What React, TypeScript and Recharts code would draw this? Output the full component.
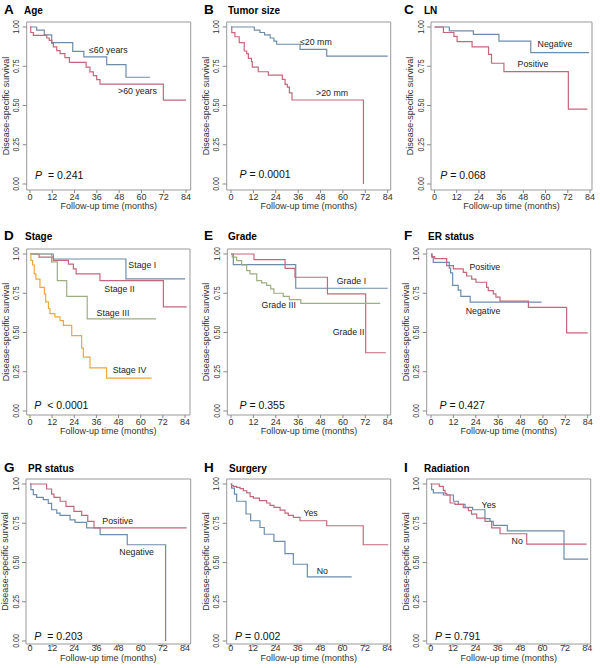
import React from "react";
import { LineChart, Line, XAxis, YAxis, ReferenceArea, ReferenceDot } from "recharts";

type Pt = [number, number];

const monthTicks = [0, 12, 24, 36, 48, 60, 72, 84];
const survTicks = [0, 0.25, 0.5, 0.75, 1];

// A - Age
const ageLe60: Pt[] = [[0, 1], [3.6, 0.98], [7.7, 0.95], [11.7, 0.9], [23, 0.845], [29, 0.81], [41.3, 0.76], [51.7, 0.68], [64.6, 0.68]];
const ageGt60: Pt[] = [[0, 1], [0.4, 0.965], [1.8, 0.947], [9, 0.93], [10.4, 0.915], [11.7, 0.895], [12.6, 0.873], [14.4, 0.85], [16.2, 0.83], [18.8, 0.805], [21.2, 0.775], [30.2, 0.745], [32.3, 0.714], [34.1, 0.69], [35.9, 0.665], [37.7, 0.636], [71.8, 0.534], [84, 0.534]];

// B - Tumor size
const sizeLe20: Pt[] = [[0, 1], [12.5, 0.98], [15.5, 0.965], [18, 0.95], [21, 0.93], [23, 0.91], [24.5, 0.89], [37, 0.857], [51.3, 0.815], [84, 0.815]];
const sizeGt20: Pt[] = [[0, 1], [0.4, 0.964], [2.1, 0.938], [4.4, 0.9], [7.1, 0.847], [8.4, 0.83], [9.3, 0.8], [11, 0.78], [11.4, 0.745], [14.6, 0.715], [20, 0.694], [27.5, 0.666], [29, 0.634], [30.2, 0.617], [31.3, 0.58], [32.7, 0.535], [71, 0]];

// C - LN
const lnNeg: Pt[] = [[0, 1], [8, 0.975], [21, 0.953], [34.8, 0.91], [52, 0.837], [83.5, 0.837]];
const lnPos: Pt[] = [[0, 1], [4.8, 0.965], [10.5, 0.94], [12.2, 0.907], [20.3, 0.873], [29.2, 0.826], [30.8, 0.769], [37.5, 0.716], [72.3, 0.477], [82.6, 0.477]];

// D - Stage
const stage1: Pt[] = [[0, 1], [12.6, 0.968], [52, 0.841], [84, 0.841]];
const stage2: Pt[] = [[0, 1], [4.9, 0.98], [12.6, 0.96], [20.8, 0.935], [23.5, 0.905], [25, 0.873], [37.9, 0.83], [72.3, 0.663], [84.9, 0.663]];
const stage3: Pt[] = [[0, 1], [11.7, 0.95], [14.8, 0.83], [19.9, 0.73], [31, 0.587], [68.3, 0.587]];
const stage4: Pt[] = [[0, 1], [0.5, 0.96], [1.4, 0.93], [2.3, 0.873], [3.2, 0.84], [5.4, 0.788], [7.8, 0.746], [8.5, 0.695], [10, 0.653], [10.8, 0.62], [13.5, 0.6], [16.3, 0.576], [18.1, 0.545], [22.6, 0.48], [28, 0.4], [28.9, 0.343], [32.5, 0.275], [41.5, 0.21], [65.9, 0.21]];

// E - Grade
const grade1: Pt[] = [[0, 1], [1.25, 0.932], [34.7, 0.782], [84, 0.782]];
const grade2: Pt[] = [[0, 1], [12.3, 0.964], [29, 0.909], [34.3, 0.852], [51.7, 0.746], [72.2, 0.371], [83, 0.371]];
const grade3: Pt[] = [[0, 1], [0.7, 0.98], [3, 0.958], [5.7, 0.93], [8.4, 0.894], [10.2, 0.873], [13.8, 0.83], [16.4, 0.816], [19.1, 0.8], [21.3, 0.778], [23, 0.75], [28, 0.73], [31.3, 0.71], [37.4, 0.686], [80, 0.686]];

// F - ER status
const erNeg: Pt[] = [[0, 1], [0.5, 0.979], [1.2, 0.947], [9.8, 0.91], [10.5, 0.88], [11.6, 0.8], [14.6, 0.77], [16, 0.73], [21, 0.693], [59.3, 0.693]];
const erPos: Pt[] = [[0, 1], [0.5, 0.983], [2, 0.97], [8.4, 0.926], [12, 0.905], [17.3, 0.883], [19.1, 0.86], [21.8, 0.84], [24.1, 0.82], [29.8, 0.788], [30.7, 0.767], [33.4, 0.746], [34.8, 0.725], [37, 0.7], [52.2, 0.66], [72.7, 0.498], [84, 0.498]];

// G - PR status
const prPos: Pt[] = [[0, 1], [9, 0.968], [11.7, 0.936], [13, 0.915], [16.3, 0.89], [19.5, 0.857], [23.8, 0.826], [28, 0.8], [31.3, 0.762], [34.7, 0.72], [84.9, 0.72]];
const prNeg: Pt[] = [[0, 1], [0.5, 0.964], [1.8, 0.932], [3.6, 0.915], [7.2, 0.9], [9.9, 0.877], [11.7, 0.836], [14.5, 0.815], [16.3, 0.8], [21.7, 0.772], [24.4, 0.755], [30.7, 0.72], [38, 0.677], [52.7, 0.613], [73.5, 0]];

// H - Surgery
const surgYes: Pt[] = [[0, 1], [0.5, 0.99], [1.4, 0.985], [3.2, 0.979], [5, 0.97], [6.8, 0.957], [8.6, 0.943], [10.4, 0.92], [12.2, 0.91], [15.4, 0.894], [19.3, 0.879], [21.1, 0.864], [23.2, 0.851], [26.5, 0.834], [29.1, 0.815], [30.9, 0.8], [33.6, 0.787], [37.2, 0.766], [51.5, 0.734], [71.1, 0.613], [84.5, 0.613]];
const surgNo: Pt[] = [[0, 1], [0.5, 0.974], [2, 0.936], [3.2, 0.89], [8.2, 0.809], [10.7, 0.766], [15.7, 0.723], [18, 0.68], [23.2, 0.634], [29.1, 0.557], [33.6, 0.489], [41.1, 0.408], [64.9, 0.408]];

// I - Radiation
const radYes: Pt[] = [[0, 1], [0.5, 0.964], [1.4, 0.943], [6.8, 0.93], [12.2, 0.89], [14.8, 0.87], [18.4, 0.851], [22.5, 0.836], [29.1, 0.779], [31.8, 0.762], [33.6, 0.736], [41.1, 0.702], [71.5, 0.521], [84.5, 0.521]];
const radNo: Pt[] = [[0, 1], [4.6, 0.985], [6.8, 0.96], [7.7, 0.94], [8.6, 0.93], [10.4, 0.879], [13, 0.87], [17.5, 0.849], [20.2, 0.83], [21.9, 0.808], [24.7, 0.783], [29.1, 0.762], [32.7, 0.72], [37.2, 0.683], [51.5, 0.617], [83.6, 0.617]];

const BLUE = "#6d8cac";
const RED = "#c4677b";
const GREEN = "#9dae83";
const ORANGE = "#f0a63c";
const BOX = "#999999";
const FONT = "'Liberation Sans', Arial, Helvetica, sans-serif";

type Curve = { name: string; pts: Pt[]; color: string; at: Pt };
type PanelCfg = {
  letter: string;
  title: string;
  titleX: number;
  col: number;
  row: number;
  xg: [number, number, number, number]; // box left, box right, x of 0, x of 84
  p: string;
  pGap: number;
  pAt: Pt;
  curves: Curve[];
};

const ROWS = [
  { top: 0, h: 222, bt: 22, bb: 190, y1: 27, y0: 184, tickDy: 4, labDy: 16, titleY: 14 },
  { top: 222, h: 223, bt: 249, bb: 415, y1: 254, y0: 411, tickDy: 4, labDy: 16, titleY: 240 },
  { top: 445, h: 223, bt: 479, bb: 644, y1: 484, y0: 641, tickDy: 1, labDy: 13.5, titleY: 472 },
];

const panels: PanelCfg[] = [
  { letter: "A", title: "Age", titleX: 24, col: 0, row: 0, xg: [26.7, 190.7, 30, 186], p: "= 0.241", pGap: 6, pAt: [2.7, 0.057],
    curves: [
      { name: "≤60 years", pts: ageLe60, color: BLUE, at: [31.8, 0.855] },
      { name: ">60 years", pts: ageGt60, color: RED, at: [47.4, 0.59] },
    ] },
  { letter: "B", title: "Tumor size", titleX: 228, col: 1, row: 0, xg: [226.7, 390.7, 231, 387.7], p: "= 0.0001", pGap: 3, pAt: [4.5, 0.064],
    curves: [
      { name: "≤20 mm", pts: sizeLe20, color: BLUE, at: [37, 0.906] },
      { name: ">20 mm", pts: sizeGt20, color: RED, at: [45.6, 0.578] },
    ] },
  { letter: "C", title: "LN", titleX: 424, col: 2, row: 0, xg: [431, 592, 434.5, 590], p: "= 0.068", pGap: 3, pAt: [3.1, 0.057],
    curves: [
      { name: "Negative", pts: lnNeg, color: BLUE, at: [55.7, 0.89] },
      { name: "Positive", pts: lnPos, color: RED, at: [44.9, 0.764] },
    ] },
  { letter: "D", title: "Stage", titleX: 25, col: 0, row: 1, xg: [26.7, 190, 30, 185], p: "< 0.0001", pGap: 6, pAt: [2.3, 0.036],
    curves: [
      { name: "Stage I", pts: stage1, color: BLUE, at: [53.3, 0.932] },
      { name: "Stage II", pts: stage2, color: RED, at: [40.3, 0.778] },
      { name: "Stage III", pts: stage3, color: GREEN, at: [36.1, 0.625] },
      { name: "Stage IV", pts: stage4, color: ORANGE, at: [44.8, 0.258] },
    ] },
  { letter: "E", title: "Grade", titleX: 228, col: 1, row: 1, xg: [227.3, 390.7, 231, 387.7], p: "= 0.355", pGap: 3, pAt: [4.5, 0.04],
    curves: [
      { name: "Grade I", pts: grade1, color: BLUE, at: [56.7, 0.826] },
      { name: "Grade II", pts: grade2, color: RED, at: [54.5, 0.502] },
      { name: "Grade III", pts: grade3, color: GREEN, at: [16.4, 0.672] },
    ] },
  { letter: "F", title: "ER status", titleX: 428, col: 2, row: 1, xg: [426.7, 590.7, 431, 587.7], p: "= 0.427", pGap: 3, pAt: [4.5, 0.04],
    curves: [
      { name: "Negative", pts: erNeg, color: BLUE, at: [18.6, 0.64] },
      { name: "Positive", pts: erPos, color: RED, at: [20.6, 0.919] },
    ] },
  { letter: "G", title: "PR status", titleX: 28, col: 0, row: 2, xg: [26, 190.7, 30, 185], p: "= 0.203", pGap: 6, pAt: [2.3, 0.032],
    curves: [
      { name: "Negative", pts: prNeg, color: BLUE, at: [48.4, 0.564] },
      { name: "Positive", pts: prPos, color: RED, at: [39.2, 0.766] },
    ] },
  { letter: "H", title: "Surgery", titleX: 229, col: 1, row: 2, xg: [226.7, 390.7, 230.7, 387.3], p: "= 0.002", pGap: 3, pAt: [2.3, 0.032],
    curves: [
      { name: "No", pts: surgNo, color: BLUE, at: [46.1, 0.447] },
      { name: "Yes", pts: surgYes, color: RED, at: [39, 0.815] },
    ] },
  { letter: "I", title: "Radiation", titleX: 424, col: 2, row: 2, xg: [426.7, 590.7, 430.7, 587.3], p: "= 0.791", pGap: 3, pAt: [2.3, 0.032],
    curves: [
      { name: "Yes", pts: radYes, color: BLUE, at: [27.3, 0.864] },
      { name: "No", pts: radNo, color: RED, at: [43.4, 0.634] },
    ] },
];

const toRows = (pts: Pt[]) => pts.map(([t, s]) => ({ t, s }));

function KMPanel({ cfg }: { cfg: PanelCfg }) {
  const row = ROWS[cfg.row];
  const left = cfg.col * 200;
  const [bl, br, x0, x84] = cfg.xg;
  const ppm = (x84 - x0) / 84;
  const xDomain: [number, number] = [-(x0 - bl) / ppm, 84 + (br - x84) / ppm];
  const ppu = row.y0 - row.y1;
  const yDomain: [number, number] = [-(row.bb - row.y0) / ppu, 1 + (row.y1 - row.bt) / ppu];

  return (
    <div style={{ position: "absolute", left, top: row.top, width: 200, height: row.h }}>
      <LineChart
        width={200}
        height={row.h}
        margin={{ top: row.bt - row.top, right: left + 200 - br, bottom: 0, left: 0 }}
      >
        <XAxis
          type="number"
          dataKey="t"
          domain={xDomain}
          ticks={monthTicks}
          interval={0}
          allowDataOverflow
          axisLine={false}
          tickLine={{ stroke: "#888" }}
          tickSize={3}
          tickMargin={0}
          height={row.top + row.h - row.bb}
          tick={(p: any) => (
            <text x={p.x} y={p.y + row.tickDy} textAnchor="middle" dominantBaseline="central"
              fontSize={9} fill="#333" fontFamily={FONT}>
              {p.payload.value}
            </text>
          )}
          label={{
            content: (p: any) => {
              const vb = p.viewBox;
              return (
                <text x={vb.x + vb.width / 2} y={vb.y + row.labDy} textAnchor="middle" dominantBaseline="central"
                  fontSize={9} fill="#333" fontFamily={FONT}>
                  Follow-up time (months)
                </text>
              );
            },
          }}
        />
        <YAxis
          type="number"
          domain={yDomain}
          ticks={survTicks}
          interval={0}
          allowDataOverflow
          axisLine={false}
          tickLine={{ stroke: "#888" }}
          tickSize={4}
          tickMargin={0}
          width={bl - left}
          tick={(p: any) => (
            <g transform={`translate(${p.x - 6},${p.y})`}>
              <text transform="rotate(-90) scale(0.78,1)" textAnchor="middle" dominantBaseline="central"
                fontSize={9} fill="#333" fontFamily={FONT}>
                {Number(p.payload.value).toFixed(2)}
              </text>
            </g>
          )}
          label={{
            content: (p: any) => {
              const vb = p.viewBox;
              const cx = vb.x + vb.width - 21;
              const cy = vb.y + vb.height / 2;
              return (
                <text x={cx} y={cy} transform={`rotate(-90 ${cx} ${cy})`} textAnchor="middle"
                  dominantBaseline="central" fontSize={9} fill="#333" fontFamily={FONT}>
                  Disease-specific survival
                </text>
              );
            },
          }}
        />
        <ReferenceArea x1={xDomain[0]} x2={xDomain[1]} y1={yDomain[0]} y2={yDomain[1]}
          fill="none" stroke={BOX} strokeWidth={1} ifOverflow="visible" />
        {cfg.curves.map((c) => (
          <Line key={c.name} data={toRows(c.pts)} dataKey="s" type="stepAfter" stroke={c.color}
            strokeWidth={1.2} dot={false} activeDot={false} isAnimationActive={false} />
        ))}
        {cfg.curves.map((c) => (
          <ReferenceDot key={"n" + c.name} x={c.at[0]} y={c.at[1]} r={0} fill="none" stroke="none"
            ifOverflow="visible"
            label={{
              content: (p: any) => (
                <text x={p.viewBox.x} y={p.viewBox.y} dominantBaseline="central" fontSize={8.8}
                  fill="#222" fontFamily={FONT}>
                  {c.name}
                </text>
              ),
            }} />
        ))}
        <ReferenceDot x={cfg.pAt[0]} y={cfg.pAt[1]} r={0} fill="none" stroke="none" ifOverflow="visible"
          label={{
            content: (p: any) => (
              <text x={p.viewBox.x} y={p.viewBox.y} dominantBaseline="central" fontSize={10.5}
                fill="#111" fontFamily={FONT}>
                <tspan fontStyle="italic">P</tspan>
                <tspan dx={cfg.pGap}>{cfg.p}</tspan>
              </text>
            ),
          }} />
      </LineChart>
    </div>
  );
}

export default function App() {
  return (
    <div style={{ position: "absolute", left: 0, top: 0, width: 600, height: 668, background: "#fff", overflow: "hidden" }}>
      {panels.map((cfg) => (
        <KMPanel key={cfg.letter} cfg={cfg} />
      ))}
      <svg width={600} height={668} style={{ position: "absolute", left: 0, top: 0, pointerEvents: "none" }}>
        {panels.map((cfg) => (
          <g key={cfg.letter} fontFamily={FONT} fontWeight="bold" fill="#000">
            <text x={cfg.col * 200 + 4} y={ROWS[cfg.row].titleY} fontSize={13.5}>{cfg.letter}</text>
            <text x={cfg.titleX} y={ROWS[cfg.row].titleY - 0.5} fontSize={10}>{cfg.title}</text>
          </g>
        ))}
      </svg>
    </div>
  );
}
